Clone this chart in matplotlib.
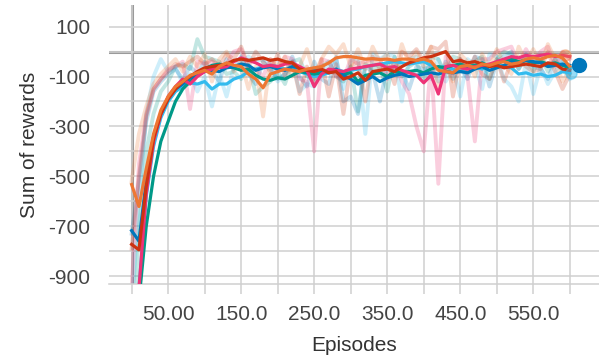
import numpy as np
import matplotlib.pyplot as plt

# Episodes (one logged point every 10 episodes)
episodes = np.arange(0, 610, 10)

# Smoothed curves
blue_s = [-718, -760, -520, -340, -250, -190, -150, -130, -105, -95, -80, -75, -80, -65, -60, -50,
          -55, -75, -65, -60, -70, -75, -60, -65, -80, -70, -75, -85, -70, -95, -110, -130, -115,
          -100, -120, -105, -95, -90, -100, -95, -90, -85, -90, -80, -85, -80, -85, -70, -60, -75,
          -65, -55, -40, -45, -35, -40, -45, -60, -55, -50, -55]
cyan_s = [-1300, -950, -580, -380, -265, -200, -160, -140, -125, -130, -120, -150, -130, -130,
          -110, -100, -80, -70, -60, -55, -60, -70, -65, -80, -90, -100, -95, -85, -70, -80, -75,
          -70, -60, -55, -50, -45, -40, -45, -50, -45, -40, -55, -65, -60, -70, -80, -65, -60, -70,
          -55, -50, -60, -65, -90, -85, -95, -90, -100, -95, -80, -85]
teal_s = [-1400, -1000, -700, -500, -360, -280, -200, -150, -120, -95, -70, -55, -50, -60, -65,
          -75, -70, -95, -110, -115, -105, -110, -95, -80, -85, -90, -85, -75, -80, -90, -85, -120,
          -95, -90, -85, -100, -80, -85, -80, -75, -85, -70, -60, -65, -55, -50, -60, -55, -45, -60,
          -50, -35, -30, -40, -35, -45, -40, -50, -45, -55, -65]
orange_s = [-533, -621, -470, -330, -235, -180, -140, -120, -95, -85, -75, -90, -60, -45, -55, -60,
            -90, -110, -145, -90, -80, -70, -75, -80, -70, -65, -60, -45, -25, -20, -20, -25, -30,
            -28, -32, -30, -35, -30, -30, -35, -30, -40, -75, -80, -85, -60, -55, -65, -50, -55,
            -45, -40, -50, -45, -30, -25, -30, -20, -15, -25, -60]
red_s = [-773, -795, -540, -350, -250, -190, -150, -120, -100, -80, -65, -60, -55, -50, -35, -30,
         -35, -30, -25, -35, -30, -40, -45, -70, -75, -80, -70, -85, -80, -110, -100, -85, -115,
         -80, -75, -70, -80, -60, -45, -35, -25, -20, -10, 0, -40, -35, -45, -40, -50, -60, -55,
         -65, -60, -55, -50, -55, -60, -45, -50, -70, -75]
pink_s = [-1300, -950, -570, -360, -250, -180, -140, -110, -130, -100, -80, -70, -65, -60, -40,
          -25, -35, -45, -60, -55, -60, -50, -45, -60, -75, -140, -90, -70, -75, -80, -70, -65, -60,
          -55, -50, -65, -60, -75, -85, -95, -125, -95, -170, -60, -55, -65, -70, -60, -55, -50,
          -40, -30, -20, -25, -15, -20, -15, -10, -20, -15, -20]

# Raw (unsmoothed) curves, drawn faint
blue_r = [-730, -520, -280, -160, -120, -90, -70, -110, -60, -90, -40, -80, -120, -30, -70, -20,
          -90, -130, -40, -70, -110, -90, -20, -100, -140, -40, -110, -130, -20, -200, -180, -250,
          -60, -80, -200, -60, -70, -80, -150, -60, -70, -60, -120, -40, -110, -60, -110, -20, -30,
          -140, -40, -20, 0, -70, -10, -60, -70, -110, -30, -40, -70]
cyan_r = [-1050, -600, -250, -100, -30, -80, -60, -130, -90, -160, -100, -220, -90, -180, -60,
          -50, -20, -40, -30, -50, -120, -90, -40, -160, -130, -140, -70, -60, -30, -150, -40, -20,
          -330, -10, -30, -10, -20, -200, -30, -20, -60, -110, -30, -120, -60, -180, -30, -50, -150,
          -10, -20, -110, -140, -200, -40, -170, -60, -130, -80, -40, -110]
teal_r = [-1300, -700, -400, -250, -160, -120, -60, -50, -70, 50, -20, -30, -40, -90, -80, -110,
          -50, -170, -140, -120, -80, -130, -40, -30, -100, -110, -60, -40, -100, -120, -60, -240,
          -50, -70, -60, -160, -20, -100, -60, -40, -120, -20, -30, -90, -20, -30, -90, -40, -20,
          -110, -30, 0, -10, -70, -20, -80, -20, -80, -30, -80, -90]
orange_r = [-520, -330, -220, -130, -90, -60, -30, -80, -20, -60, -10, -120, -30, 0, -80, -40,
            -150, -60, -260, -30, -60, -20, -100, -60, 10, -90, -30, 20, -10, 30, -60, 10, -70, 20,
            -40, -10, -90, 30, -50, 0, -60, 20, -160, -50, -120, -10, -40, -100, -10, -60, 10, -50,
            -90, 20, -40, 10, -60, 30, -30, -120, -70]
red_r = [-790, -500, -260, -150, -110, -80, -50, -60, -40, -20, -50, -30, -60, -10, -30, 20, -60,
         0, -40, -80, -10, -100, -40, -170, -60, -120, -30, -180, -50, -250, -60, -40, -200, -20,
         -70, -40, -130, 0, -20, 10, -40, 20, 10, 40, -180, -30, -80, -20, -90, -110, -30, -120,
         -40, -20, -60, -80, -70, 0, -80, -150, -90]
pink_r = [-950, -450, -250, -150, -110, -70, -60, -40, -230, -40, -50, -40, -60, -50, 0, 10, -70,
          -70, -100, -30, -80, -20, -30, -110, -120, -400, -30, -40, -100, -110, -30, -50, -40, -30,
          -30, -110, -40, -120, -170, -300, -400, -40, -530, -20, -90, -30, -100, -360, -30, -30, 0,
          10, 20, -50, 10, -40, 0, 20, -60, 0, -30]

series = [
    ('#33BBEE', cyan_s, cyan_r),
    ('#009988', teal_s, teal_r),
    ('#0077BB', blue_s, blue_r),
    ('#EE3377', pink_s, pink_r),
    ('#CC3311', red_s, red_r),
    ('#EE7733', orange_s, orange_r),
]

plt.rcParams['font.family'] = ['Liberation Sans', 'DejaVu Sans']
plt.rcParams['axes.unicode_minus'] = False
fig = plt.figure(figsize=(5.99, 3.6), dpi=100)
ax = fig.add_axes([109 / 599, 1 - 284 / 360, 490 / 599, 279 / 360])

grid_col = '#cfcfcf'
ax.axhline(0, color='#9a9a9a', lw=2.2, zorder=1)
ax.axvline(0, color='#9a9a9a', lw=2.2, zorder=1)

for col, s, r in series:
    ax.plot(episodes, r, color=col, lw=2.8, alpha=0.24, zorder=2)
for col, s, r in series:
    ax.plot(episodes, s, color=col, lw=2.3, zorder=3)

# end markers
ax.plot(episodes[-1] + 12, blue_s[-1], 'o', color='#0077BB', ms=10, zorder=4)
ax.plot(episodes[-1] + 2, cyan_s[-1], 'o', color='#33BBEE', ms=8, alpha=0.5, zorder=3)
ax.plot(episodes[-1] - 7, orange_s[-3], 'o', color='#EE7733', ms=8, alpha=0.4, zorder=3)

ax.set_xlim(-31, 640)
ax.set_ylim(-932, 187)

ax.set_xticks([50, 150, 250, 350, 450, 550])
ax.set_xticklabels(['50.00', '150.0', '250.0', '350.0', '450.0', '550.0'])
ax.set_xticks(np.arange(0, 601, 100), minor=True)
ax.set_yticks([100, -100, -300, -500, -700, -900])
ax.set_yticks(np.arange(-800, 1, 100), minor=True)

ax.grid(True, which='both', color=grid_col, lw=1.1, zorder=0)
ax.tick_params(axis='x', which='both', length=7, width=1.1, color=grid_col,
               labelsize=15, labelcolor='#444444', pad=8)
ax.tick_params(axis='y', which='both', length=0, labelsize=15, labelcolor='#444444', pad=13.5)

for side in ['top', 'right', 'left']:
    ax.spines[side].set_visible(False)
ax.spines['bottom'].set_color(grid_col)
ax.spines['bottom'].set_linewidth(1.1)

ax.set_xlabel('Episodes', fontsize=15, color='#333333', labelpad=9)
ax.set_ylabel('Sum of rewards', fontsize=15, color='#333333', labelpad=7)

fig.savefig('out.png', dpi=100)
